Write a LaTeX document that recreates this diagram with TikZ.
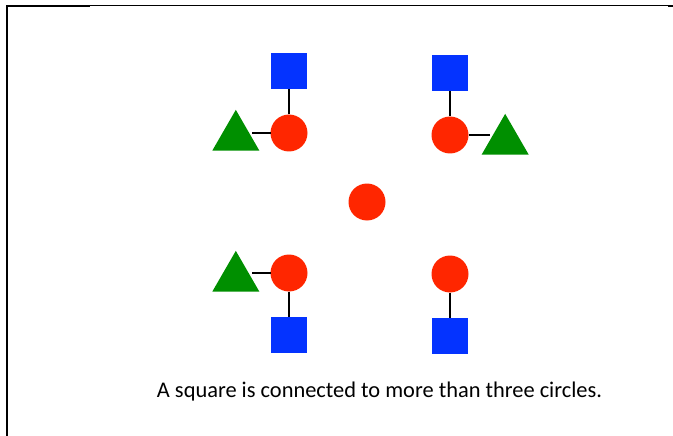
\documentclass[tikz,border=0pt]{standalone}
\usepackage{fontspec}
\setmainfont{Carlito}
\usepackage{tikz}
\usetikzlibrary{positioning, shapes.geometric}
\usepackage{xcolor}
\definecolor{shapeRed}{HTML}{FF2600}
\definecolor{shapeBlue}{HTML}{0433FF}
\definecolor{shapeGreen}{HTML}{008F00}

\begin{document}
\begin{tikzpicture}[
    x=1pt, y=-1pt,
    node distance=25pt,
    redCircle/.style={
        circle,
        minimum size=37pt,
        inner sep=0pt,
        outer sep=0pt,
        fill=shapeRed,
        draw=none
    },
    blueSquare/.style={
        rectangle,
        minimum size=36pt,
        inner sep=0pt,
        outer sep=0pt,
        fill=shapeBlue,
        draw=none
    },
    greenTriangle/.style={
        regular polygon,
        regular polygon sides=3,
        minimum size=54.3pt,
        inner sep=0pt,
        outer sep=0pt,
        fill=shapeGreen,
        draw=none
    },
    link/.style={
        draw=black,
        line width=1.5pt
    }
]
\useasboundingbox (0,0) rectangle (673,436);

% Cadre
\draw[line width=1.8pt] (6.8,436) -- (6.8,6) -- (90,6);
\draw[line width=1pt] (90,5.5) -- (668,5.5);
\draw[line width=1.8pt] (668,6) -- (673,6);

% Haut gauche
\node[redCircle] (circTL) at (289,133) {};
\node[blueSquare, above=of circTL] (sqTL) {};
\node[greenTriangle, left=19pt of circTL, yshift=-4pt] (triTL) {};

% Haut droite
\node[redCircle] (circTR) at (450,135) {};
\node[blueSquare, above=of circTR] (sqTR) {};
\node[greenTriangle, right=21pt of circTR, yshift=-6pt] (triTR) {};

% Centre
\node[redCircle] (circC) at (367,202) {};

% Bas gauche
\node[redCircle] (circBL) at (289,273) {};
\node[blueSquare, below=of circBL] (sqBL) {};
\node[greenTriangle, left=19pt of circBL, yshift=-5pt] (triBL) {};

% Bas droite
\node[redCircle] (circBR) at (450,274) {};
\node[blueSquare, below=of circBR] (sqBR) {};

% Liens
\draw[link] (circTL) -- (sqTL);
\draw[link] (circTL.west) -- (circTL.west -| triTL.east);
\draw[link] (circTR) -- (sqTR);
\draw[link] (circTR.east) -- (circTR.east -| triTR.west);
\draw[link] (circBL) -- (sqBL);
\draw[link] (circBL.west) -- (circBL.west -| triBL.east);
\draw[link] (circBR) -- (sqBR);

% Legende
\node[anchor=base, inner sep=0pt, font=\fontsize{22.4}{27}\selectfont] (caption) at (379.5,397)
    {A square is connected to more than three circles.};

\end{tikzpicture}
\end{document}
